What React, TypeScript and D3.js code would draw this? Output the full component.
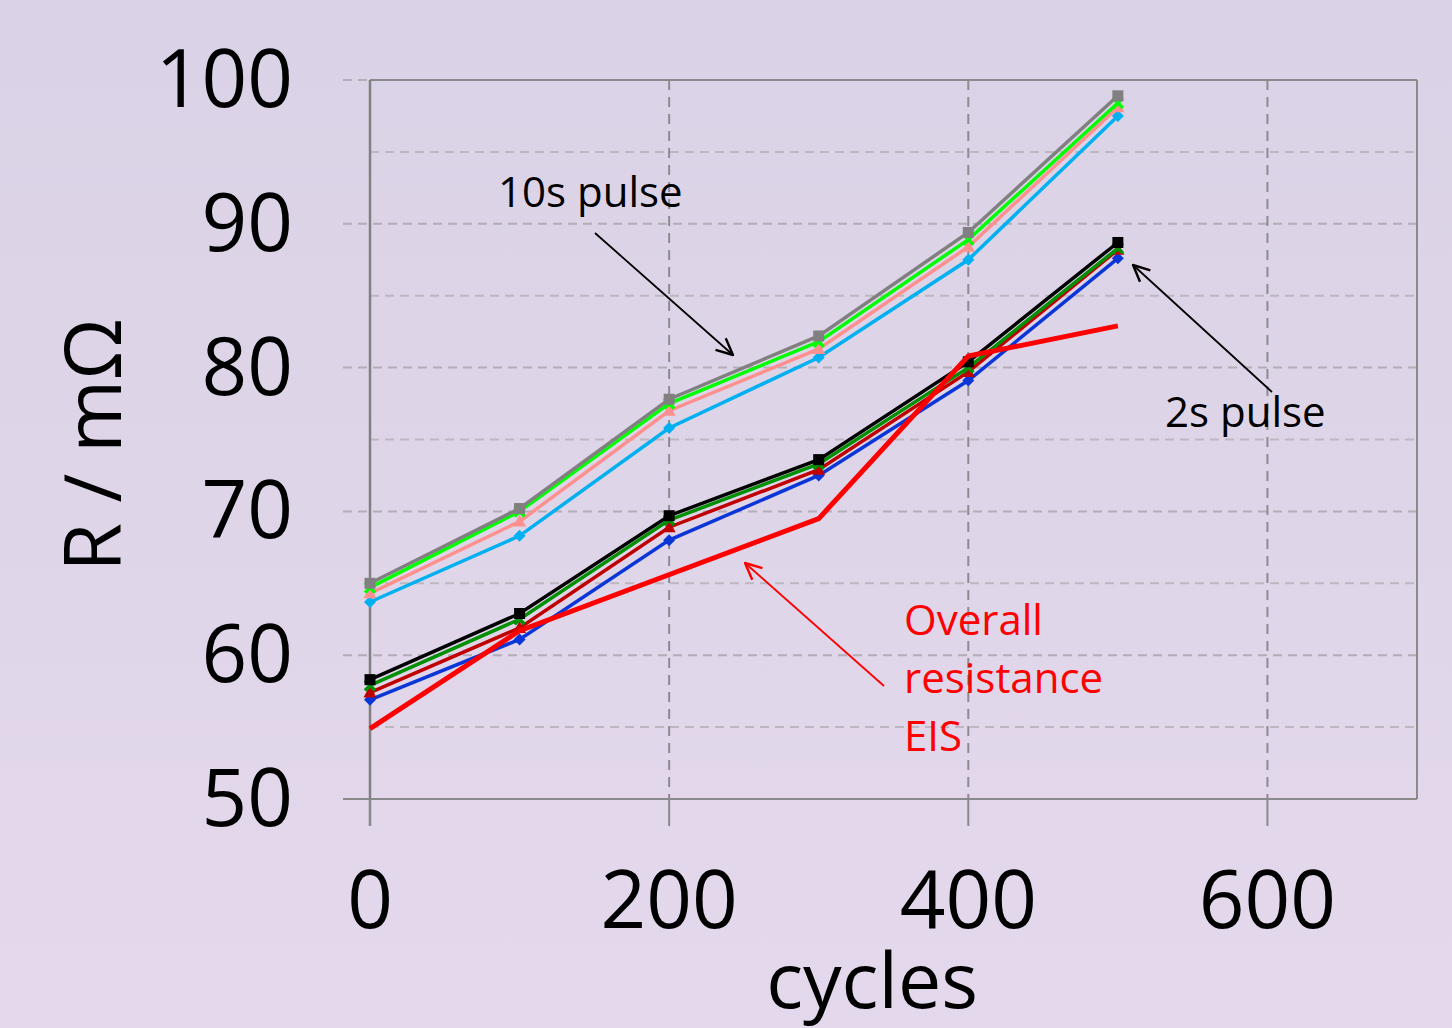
import React from "react";
import * as d3 from "d3";

const cycles = [0, 100, 200, 300, 400, 500];
const gray10s = [65.0, 70.2, 77.8, 82.2, 89.4, 98.9];
const lime10s = [64.7, 70.0, 77.5, 81.8, 88.9, 98.4];
const pink10s = [64.3, 69.3, 77.0, 81.3, 88.4, 98.1];
const cyan10s = [63.7, 68.3, 75.8, 80.7, 87.5, 97.5];
const black2s = [58.3, 62.9, 69.7, 73.6, 80.4, 88.7];
const green2s = [57.9, 62.5, 69.4, 73.3, 80.0, 88.3];
const darkred2s = [57.4, 61.9, 68.9, 72.9, 79.7, 88.2];
const blue2s = [56.9, 61.1, 68.0, 72.5, 79.1, 87.6];
const eisCycles = [0, 100, 300, 400, 500];
const eisValues = [54.9, 61.7, 69.5, 80.8, 82.9];
const xTicks = [0, 200, 400, 600];
const yTicks = [50, 60, 70, 80, 90, 100];
const yMinor = [55, 65, 75, 85, 95];

type Series = { values: number[]; color: string; marker: string };
const seriesList: Series[] = [
  { values: cyan10s, color: "#00b0f0", marker: "diamond" },
  { values: pink10s, color: "#ff9090", marker: "triangle" },
  { values: lime10s, color: "#00ff00", marker: "cross" },
  { values: gray10s, color: "#808080", marker: "square" },
  { values: blue2s, color: "#0a36d8", marker: "diamond" },
  { values: darkred2s, color: "#c00000", marker: "triangle" },
  { values: green2s, color: "#009000", marker: "cross" },
  { values: black2s, color: "#000000", marker: "square" },
];

const FONT = "'Open Sans', 'DejaVu Sans', sans-serif";

export default function App() {
  const W = 1452, H = 1028;
  const x = d3.scaleLinear().domain([0, 700]).range([370, 1417]);
  const y = d3.scaleLinear().domain([50, 100]).range([799, 80]);
  const line = d3
    .line<[number, number]>()
    .x((d) => x(d[0]))
    .y((d) => y(d[1]));

  const markerPath = (m: string, cx: number, cy: number, color: string, k: string) => {
    if (m === "square") return <rect key={k} x={cx - 5.5} y={cy - 5.5} width={11} height={11} fill={color} />;
    if (m === "diamond") return <path key={k} d={`M${cx},${cy - 6}L${cx + 6},${cy}L${cx},${cy + 6}L${cx - 6},${cy}Z`} fill={color} />;
    if (m === "triangle") return <path key={k} d={`M${cx},${cy - 7}L${cx + 6.5},${cy + 5}L${cx - 6.5},${cy + 5}Z`} fill={color} />;
    return (
      <path key={k} d={`M${cx - 5},${cy - 5}L${cx + 5},${cy + 5}M${cx - 5},${cy + 5}L${cx + 5},${cy - 5}`} stroke={color} strokeWidth={3.5} />
    );
  };

  return (
    <svg width={W} height={H} style={{ position: "absolute", left: 0, top: 0 }} fontFamily={FONT}>
      <defs>
        <linearGradient id="bg" x1="0" y1="0" x2="0" y2="1">
          <stop offset="0" stopColor="#dad2e6" />
          <stop offset="1" stopColor="#e4d8ec" />
        </linearGradient>
        <marker id="arrB" viewBox="0 0 20 20" refX="19" refY="10" markerWidth="22" markerHeight="22" markerUnits="userSpaceOnUse" orient="auto">
          <path d="M4,3 L19,10 L4,17" fill="none" stroke="#000" strokeWidth="2.2" strokeLinejoin="miter" />
        </marker>
        <marker id="arrR" viewBox="0 0 20 20" refX="19" refY="10" markerWidth="22" markerHeight="22" markerUnits="userSpaceOnUse" orient="auto">
          <path d="M4,3 L19,10 L4,17" fill="none" stroke="#ff0000" strokeWidth="2.2" strokeLinejoin="miter" />
        </marker>
      </defs>
      <rect x={0} y={0} width={W} height={H} fill="url(#bg)" />

      {yMinor.map((v) => (
        <line key={"mn" + v} x1={370} x2={1417} y1={y(v)} y2={y(v)} stroke="#bdb8bf" strokeWidth={2} strokeDasharray="9,6" />
      ))}
      {yTicks.filter((v) => v !== 50).map((v) => (
        <line key={"mj" + v} x1={343} x2={1417} y1={y(v)} y2={y(v)} stroke="#b3adb6" strokeWidth={2} strokeDasharray="9,6" />
      ))}
      {xTicks.filter((v) => v !== 0).map((v) => (
        <line key={"vg" + v} x1={x(v)} x2={x(v)} y1={80} y2={799} stroke="#8f8a92" strokeWidth={2} strokeDasharray="10,7" />
      ))}
      <line x1={370} x2={1417} y1={80} y2={80} stroke="#8a8a8a" strokeWidth={2} />
      <line x1={1417} x2={1417} y1={80} y2={799} stroke="#8a8a8a" strokeWidth={2} />
      <line x1={343} x2={1417} y1={799} y2={799} stroke="#8a8a8a" strokeWidth={2} />
      <line x1={370} x2={370} y1={80} y2={826} stroke="#808080" strokeWidth={2.5} />
      {xTicks.map((v) => (
        <line key={"xt" + v} x1={x(v)} x2={x(v)} y1={799} y2={826} stroke="#8a8a8a" strokeWidth={2} />
      ))}

      {seriesList.map((s, i) => (
        <g key={"s" + i}>
          <path d={line(cycles.map((c, j) => [c, s.values[j]]) as [number, number][]) || ""} fill="none" stroke={s.color} strokeWidth={3.5} />
          {cycles.map((c, j) => markerPath(s.marker, x(c), y(s.values[j]), s.color, "m" + i + "_" + j))}
        </g>
      ))}
      <path d={line(eisCycles.map((c, j) => [c, eisValues[j]]) as [number, number][]) || ""} fill="none" stroke="#ff0000" strokeWidth={5} strokeLinejoin="miter" />

      {yTicks.map((v) => (
        <text key={"yl" + v} x={293} y={y(v) + 27} textAnchor="end" fontSize={80} fill="#000">
          {v}
        </text>
      ))}
      {xTicks.map((v) => (
        <text key={"xl" + v} x={x(v)} y={928} textAnchor="middle" fontSize={80} fill="#000">
          {v}
        </text>
      ))}
      <text x={872} y={1008} textAnchor="middle" fontSize={77} fill="#000">cycles</text>
      <text transform="translate(121,445) rotate(-90)" textAnchor="middle" fontSize={79} fill="#000">R / mΩ</text>

      <text x={498} y={207} fontSize={42} fill="#000">10s pulse</text>
      <line x1={595} y1={233} x2={733} y2={355} stroke="#000" strokeWidth={1.8} markerEnd="url(#arrB)" />
      <text x={1165} y={427} fontSize={42} fill="#000">2s pulse</text>
      <line x1={1272} y1={392} x2={1133} y2={265} stroke="#000" strokeWidth={1.8} markerEnd="url(#arrB)" />
      <text x={904} y={635} fontSize={42} fill="#ff0000">Overall</text>
      <text x={904} y={693} fontSize={42} fill="#ff0000">resistance</text>
      <text x={904} y={751} fontSize={42} fill="#ff0000">EIS</text>
      <line x1={884} y1={686} x2={745} y2={563} stroke="#ff0000" strokeWidth={1.8} markerEnd="url(#arrR)" />
    </svg>
  );
}
